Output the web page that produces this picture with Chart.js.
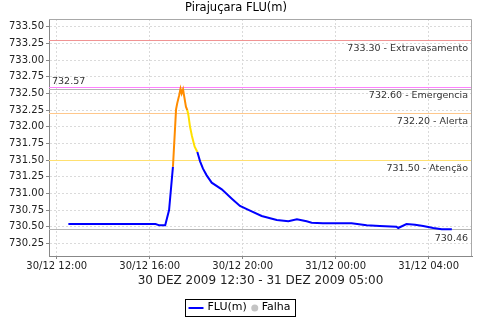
<!DOCTYPE html>
<html>
<head>
<meta charset="utf-8">
<script src="https://cdn.jsdelivr.net/npm/chart.js@4.4.0/dist/chart.umd.min.js"></script>
<style>
html, body { margin: 0; padding: 0; background: #fff; }
</style>
</head>
<body>
<canvas id="chart" width="480" height="320"></canvas>
<script>
// minutos desde 30/12/2009 00:00
const minutes = [750, 780, 840, 900, 960, 975, 985, 1000, 1010, 1020,
    1028, 1031, 1036, 1039.5, 1042.5, 1046, 1050, 1053.5, 1057, 1060,
    1064, 1069, 1076, 1083, 1090, 1097.5, 1107, 1120, 1146, 1172,
    1193, 1219, 1249, 1288, 1318, 1340, 1365, 1378, 1407, 1481,
    1520, 1554, 1597, 1601.5, 1623, 1645, 1666, 1692, 1714, 1740];
const levels = [730.54, 730.54, 730.54, 730.54, 730.54, 730.54, 730.52, 730.52, 730.75, 731.40,
    732.26, 732.35, 732.47, 732.57, 732.50, 732.56, 732.42, 732.30, 732.25, 732.17,
    732.00, 731.86, 731.70, 731.62, 731.48, 731.37, 731.27, 731.16, 731.06, 730.92,
    730.81, 730.74, 730.66, 730.60, 730.58, 730.61, 730.58, 730.56, 730.55, 730.55,
    730.52, 730.51, 730.50, 730.48, 730.54, 730.53, 730.51, 730.48, 730.46, 730.46];

const xTicks = [720, 960, 1200, 1440, 1680];
const yTicks = [730.25, 730.5, 730.75, 731, 731.25, 731.5, 731.75, 732, 732.25, 732.5, 732.75, 733, 733.25, 733.5];

const limitValues = [733.30, 732.60, 732.20, 731.50];
const limitNames = ["Extravasamento", "Emergencia", "Alerta", "Atenção"];
const limitColors = ["#f09494", "#ff80ff", "#ffc88c", "#ffe070"];

const font = "DejaVu Sans";

function levelColor(v) {
    if (v >= 732.2) return "#ff8c00";
    if (v >= 731.5) return "#ffe000";
    return "#0000ff";
}

function pad(n) {
    return (n < 10 ? "0" : "") + n;
}

function hLine(ctx, area, py, color) {
    ctx.strokeStyle = color;
    ctx.lineWidth = 1;
    ctx.beginPath();
    ctx.moveTo(area.left, py);
    ctx.lineTo(area.right, py);
    ctx.stroke();
}

const limitsPlugin = {
    id: "limits",
    beforeDatasetsDraw(chart) {
        const ctx = chart.ctx;
        const area = chart.chartArea;
        const y = chart.scales.y;
        ctx.save();
        ctx.font = "9.5px '" + font + "'";
        ctx.fillStyle = "#333";
        ctx.textBaseline = "top";
        ctx.textAlign = "right";

        limitValues.forEach((v, i) => {
            const py = Math.round(y.getPixelForValue(v)) + 0.5;
            hLine(ctx, area, py, limitColors[i]);
            ctx.fillText(v.toFixed(2) + " - " + limitNames[i], area.right - 4, py + 3);
        });

        // máximo e último valor
        const maxV = Math.max(...levels);
        const lastV = levels[levels.length - 1];
        let py = Math.round(y.getPixelForValue(maxV)) + 0.5;
        hLine(ctx, area, py, "#b4b4b4");
        ctx.textAlign = "left";
        ctx.textBaseline = "bottom";
        ctx.fillText(maxV.toFixed(2), area.left + 3, py - 3);

        py = Math.round(y.getPixelForValue(lastV)) + 0.5;
        hLine(ctx, area, py, "#b4b4b4");
        ctx.textAlign = "right";
        ctx.textBaseline = "top";
        ctx.fillText(lastV.toFixed(2), area.right - 4, py + 4);
        ctx.restore();
    },
    afterDraw(chart) {
        const ctx = chart.ctx;
        const area = chart.chartArea;
        ctx.save();
        ctx.strokeStyle = "#a8a8a8";
        ctx.lineWidth = 1;
        ctx.beginPath();
        ctx.moveTo(area.left, area.top + 0.5);
        ctx.lineTo(area.right - 0.5, area.top + 0.5);
        ctx.lineTo(area.right - 0.5, area.bottom);
        ctx.stroke();

        // legenda
        ctx.font = "11px '" + font + "'";
        const w1 = ctx.measureText("FLU(m)").width;
        const w2 = ctx.measureText("Falha").width;
        const boxW = 3 + 15 + 4 + w1 + 4 + 8 + 3 + w2 + 5;
        const bx = Math.round(240.5 - boxW / 2) + 0.5;
        const by = 299.5;
        const cy = 308;
        ctx.strokeStyle = "#000";
        ctx.strokeRect(bx, by, Math.round(boxW), 17);
        let x = bx + 3;
        ctx.strokeStyle = "#0000ff";
        ctx.lineWidth = 2;
        ctx.beginPath();
        ctx.moveTo(x, cy);
        ctx.lineTo(x + 15, cy);
        ctx.stroke();
        x += 19;
        ctx.fillStyle = "#000";
        ctx.textBaseline = "middle";
        ctx.textAlign = "left";
        ctx.fillText("FLU(m)", x, cy - 0.5);
        x += w1 + 4 + 4;
        ctx.fillStyle = "#c4c4c4";
        ctx.beginPath();
        ctx.arc(x, cy, 3.5, 0, Math.PI * 2);
        ctx.fill();
        x += 7;
        ctx.fillStyle = "#000";
        ctx.fillText("Falha", x, cy - 0.5);
        ctx.restore();
    }
};

const ctx = document.getElementById("chart");

const chart = new Chart(ctx, {
    type: "line",
    data: {
        datasets: [{
            label: "FLU(m)",
            data: minutes.map((m, i) => ({ x: m, y: levels[i] })),
            borderColor: "#0000ff",
            borderWidth: 2,
            pointRadius: 0,
            tension: 0,
            segment: {
                borderColor: c => levelColor(c.p1.parsed.y)
            }
        }]
    },
    options: {
        responsive: false,
        devicePixelRatio: 1,
        animation: false,
        layout: { padding: { left: 0, right: 8, top: 0, bottom: 0 } },
        plugins: {
            legend: { display: false },
            tooltip: { enabled: false },
            title: {
                display: true,
                text: "Pirajuçara FLU(m)",
                color: "#000",
                font: { family: font, size: 11.5, weight: "normal" },
                padding: { top: 1.5, bottom: 3.7 }
            }
        },
        scales: {
            x: {
                type: "linear",
                min: 700,
                max: 1792,
                afterBuildTicks: s => { s.ticks = xTicks.map(v => ({ value: v })); },
                afterFit: s => { s.height = 64; },
                ticks: {
                    color: "#222",
                    font: { family: font, size: 10 },
                    padding: 1,
                    maxRotation: 0,
                    callback: v => {
                        const d = v < 1440 ? 30 : 31;
                        const m = v % 1440;
                        return d + "/12 " + pad(Math.floor(m / 60)) + ":" + pad(m % 60);
                    }
                },
                grid: { color: "#dadada", tickLength: 3, tickColor: "#888", tickBorderDash: [] },
                border: { color: "#888", dash: [2, 2] },
                title: {
                    display: true,
                    text: "30 DEZ 2009 12:30 - 31 DEZ 2009 05:00",
                    color: "#222",
                    font: { family: font, size: 12 },
                    padding: { top: 0, bottom: 31.8 }
                }
            },
            y: {
                min: 730.06,
                max: 733.616,
                afterBuildTicks: s => { s.ticks = yTicks.map(v => ({ value: v })); },
                afterFit: s => { s.width = 49; },
                ticks: {
                    color: "#222",
                    font: { family: font, size: 10 },
                    padding: 2,
                    callback: v => v.toFixed(2)
                },
                grid: { color: "#dadada", tickLength: 3, tickColor: "#888", tickBorderDash: [] },
                border: { color: "#888", dash: [2, 2] }
            }
        }
    },
    plugins: [limitsPlugin]
});
</script>
</body>
</html>
